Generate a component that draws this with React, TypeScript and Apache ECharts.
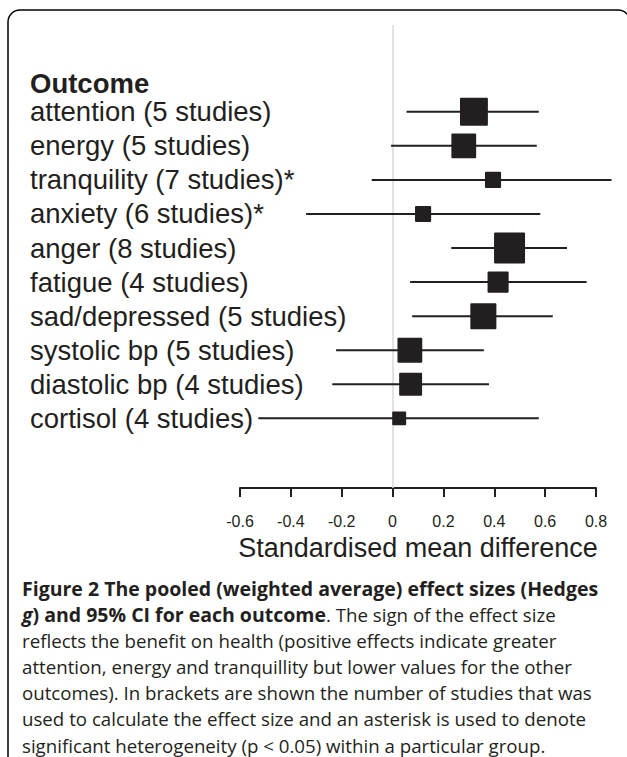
import React, { useEffect, useRef } from "react";
import * as echarts from "echarts";

const categories = [
  "attention (5 studies)",
  "energy (5 studies)",
  "tranquility (7 studies)*",
  "anxiety (6 studies)*",
  "anger (8 studies)",
  "fatigue (4 studies)",
  "sad/depressed (5 studies)",
  "systolic bp (5 studies)",
  "diastolic bp (4 studies)",
  "cortisol (4 studies)",
];
const effect = [0.32, 0.28, 0.395, 0.12, 0.46, 0.415, 0.357, 0.068, 0.071, 0.026];
const ciLower = [0.055, -0.006, -0.082, -0.34, 0.231, 0.069, 0.077, -0.222, -0.237, -0.528];
const ciUpper = [0.575, 0.567, 0.861, 0.581, 0.686, 0.763, 0.63, 0.359, 0.379, 0.575];
// relative weight of each pooled estimate (drawn as square size)
const weights = [0.9, 0.8, 0.52, 0.52, 1.0, 0.68, 0.84, 0.8, 0.74, 0.45];
const xTicks = [-0.6, -0.4, -0.2, 0, 0.2, 0.4, 0.6, 0.8];

const headerText = "Outcome";
const axisTitle = "Standardised mean difference";
const captionLines = [
  "{b|Figure 2 The pooled (weighted average) effect sizes (Hedges}",
  "{bi|g}{b|) and 95% CI for each outcome}. The sign of the effect size",
  "reflects the benefit on health (positive effects indicate greater",
  "attention, energy and tranquillity but lower values for the other",
  "outcomes). In brackets are shown the number of studies that was",
  "used to calculate the effect size and an asterisk is used to denote",
  "significant heterogeneity (p < 0.05) within a particular group.",
];

const INK = "#231f20";
const SANS = "'Liberation Sans', Arial, Helvetica, sans-serif";
const CAP = "'Open Sans', 'Noto Sans', sans-serif";

export default function App() {
  const ref = useRef<HTMLDivElement>(null);
  useEffect(() => {
    if (!ref.current) return;
    const chart = echarts.init(ref.current, undefined, { renderer: "svg" });
    const capFont = 18.7;
    const capBold = 19.5;
    const option: any = {
      animation: false,
      backgroundColor: "#ffffff",
      grid: [
        { left: 240, right: 31, top: 25, bottom: 269 },
        { left: 240, right: 31, top: 94.7, height: 340.7 },
      ],
      xAxis: [
        {
          type: "value",
          gridIndex: 0,
          min: xTicks[0],
          max: xTicks[xTicks.length - 1],
          interval: 0.2,
          splitLine: { show: false },
          axisLine: { show: true, lineStyle: { color: INK, width: 2 } },
          axisTick: { show: true, length: 9, lineStyle: { color: INK, width: 2 } },
          axisLabel: {
            margin: 25,
            fontSize: 16,
            fontFamily: SANS,
            color: INK,
            formatter: (v: number) => (Math.abs(v) < 1e-9 ? "0" : String(+v.toFixed(1))),
          },
          name: axisTitle,
          nameLocation: "middle",
          nameGap: 46,
          nameTextStyle: { fontSize: 27, fontFamily: SANS, color: INK },
        },
        {
          type: "value",
          gridIndex: 1,
          min: xTicks[0],
          max: xTicks[xTicks.length - 1],
          show: false,
        },
      ],
      yAxis: [
        { type: "value", gridIndex: 0, min: 0, max: 1, show: false },
        {
          type: "category",
          gridIndex: 1,
          inverse: true,
          data: categories,
          axisLine: { show: false },
          axisTick: { show: false },
          splitLine: { show: false },
          axisLabel: {
            interval: 0,
            align: "left",
            margin: 210,
            fontSize: 27.5,
            fontFamily: SANS,
            color: INK,
            padding: [6, 0, 0, 0],
          },
        },
      ],
      series: [
        {
          type: "scatter",
          xAxisIndex: 0,
          yAxisIndex: 0,
          data: [[0, 0.5]],
          symbolSize: 0,
          silent: true,
          z: 1,
          markLine: {
            silent: true,
            symbol: "none",
            label: { show: false },
            lineStyle: { color: "#d8d8d8", width: 1.5, type: "solid" },
            data: [{ xAxis: 0 }],
          },
        },
        {
          type: "custom",
          xAxisIndex: 1,
          yAxisIndex: 1,
          z: 5,
          encode: { x: [1, 2, 3], y: 0 },
          data: categories.map((c, i) => [i, ciLower[i], ciUpper[i], effect[i], weights[i]]),
          renderItem: (params: any, api: any) => {
            const i = api.value(0);
            const p0 = api.coord([api.value(1), i]);
            const p1 = api.coord([api.value(2), i]);
            const pc = api.coord([api.value(3), i]);
            const s = api.value(4) * 31;
            return {
              type: "group",
              children: [
                {
                  type: "line",
                  shape: { x1: p0[0], y1: p0[1], x2: p1[0], y2: p1[1] },
                  style: { stroke: INK, lineWidth: 2 },
                },
                {
                  type: "rect",
                  shape: { x: pc[0] - s / 2, y: pc[1] - s / 2, width: s, height: s, r: 1 },
                  style: { fill: INK },
                },
              ],
            };
          },
        },
      ],
      graphic: [
        {
          type: "rect",
          shape: { x: 8, y: 10, width: 622, height: 800, r: [12, 12, 0, 0] },
          style: { fill: "none", stroke: "#000", lineWidth: 1.5 },
          silent: true,
          z: -10,
        },
        {
          type: "text",
          x: 30,
          y: 83,
          style: {
            text: headerText,
            font: `bold 27.5px ${SANS}`,
            fill: INK,
            textVerticalAlign: "middle",
          },
        },
        ...captionLines.map((line, k) => ({
          type: "text",
          x: 22,
          y: 588 + k * 26.17,
          style: {
            text: line,
            fontFamily: CAP,
            fontSize: capFont,
            fill: INK,
            textVerticalAlign: "middle",
            rich: {
              b: { fontFamily: CAP, fontSize: capBold, fontWeight: "bold", fill: INK },
              bi: {
                fontFamily: CAP,
                fontSize: capBold,
                fontWeight: "bold",
                fontStyle: "italic",
                fill: INK,
              },
            },
          },
        })),
      ],
    };
    chart.setOption(option);
    return () => chart.dispose();
  }, []);
  return (
    <div
      ref={ref}
      style={{ position: "fixed", left: 0, top: 0, width: 627, height: 757 }}
    />
  );
}
